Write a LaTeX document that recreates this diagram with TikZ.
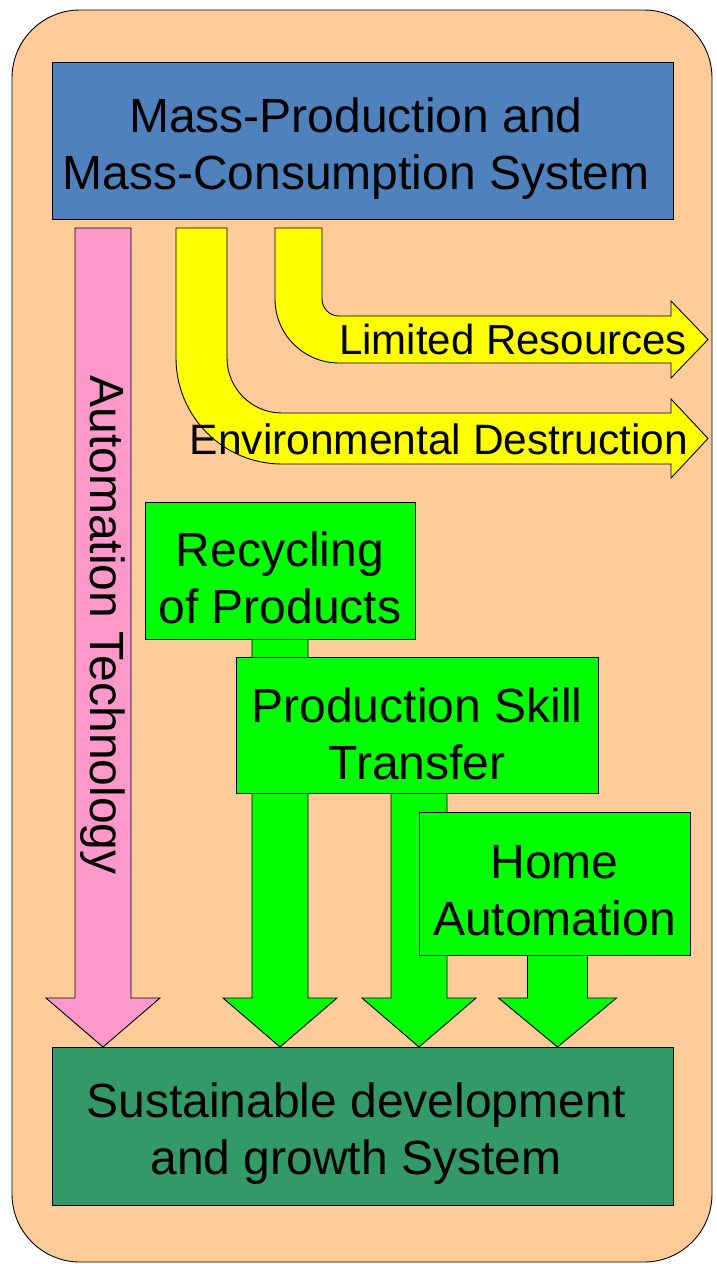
\documentclass[tikz,border=0pt]{standalone}
\usepackage{fontspec}
\setmainfont{Liberation Sans}
\usepackage{xcolor}
\definecolor{peach}{HTML}{FFCC99}
\definecolor{massblue}{HTML}{4F81BD}
\definecolor{autopink}{HTML}{FF99CC}
\definecolor{leafgreen}{HTML}{00FF00}
\definecolor{seagreen}{HTML}{339966}
\definecolor{warnyellow}{HTML}{FFFF00}

\begin{document}
\begin{tikzpicture}[x=1pt, y=1pt, line width=0.9pt,
  box/.style={draw, rectangle, inner sep=0pt},
  greenbox/.style={box, fill=leafgreen},
  boxtext/.style={align=center, inner sep=0pt, font=\fontsize{48}{57}\selectfont},
  bigarrow/.style={draw, line join=miter}]
  \useasboundingbox (0,0) rectangle (717,-1264);

  % Background panel
  \filldraw[fill=peach, rounded corners=68pt] (12,-10) rectangle (712,-1262);

  % Top and bottom systems
  \node[box, fill=massblue, minimum width=621pt, minimum height=157pt] (mass) at (362.5,-141) {};
  \node[boxtext] (massText) at ([xshift=-6.5pt, yshift=-7.5pt]mass.center) {Mass-Production and\\Mass-Consumption System};
  \node[box, fill=seagreen, minimum width=621pt, minimum height=158pt] (goal) at (362.5,-1126) {};
  \node[boxtext] (goalText) at ([xshift=-6.5pt, yshift=-7.5pt]goal.center) {Sustainable development\\and growth System};

  % Arrow sizes
  \def\shaft{28}
  \def\head{57}
  \def\basey{-998}
  \def\tipy{-1047}

  % Automation arrow
  \filldraw[bigarrow, fill=autopink] (103-\shaft,-228) -- (103-\shaft,\basey)
    -- (103-\head,\basey) -- (103,\tipy) -- (103+\head,\basey)
    -- (103+\shaft,\basey) -- (103+\shaft,-228) -- cycle;
  \node[rotate=-90, font=\fontsize{48}{57}\selectfont] (auto)
    at (103,-625) {Automation Technology};

  % Limited resources arrow
  \filldraw[bigarrow, fill=warnyellow] (275,-228) -- (275,-299)
    arc[start angle=180, end angle=270, radius=64] -- (671,-363)
    -- (671,-378) -- (708,-339.5) -- (671,-301) -- (671,-316) -- (339,-316)
    arc[start angle=270, end angle=180, radius=17] -- (322,-228) -- cycle;
  \node[font=\fontsize{42}{50}\selectfont] (limit) at (513,-339) {Limited Resources};

  % Environmental destruction arrow
  \filldraw[bigarrow, fill=warnyellow] (176,-228) -- (176,-358)
    arc[start angle=180, end angle=270, radius=106] -- (671,-464)
    -- (671,-478) -- (708,-438.5) -- (671,-399) -- (671,-413) -- (282,-413)
    arc[start angle=270, end angle=180, radius=55] -- (227,-228) -- cycle;
  \node[font=\fontsize{42.5}{50}\selectfont] (envir) at (439,-439) {Environmental Destruction};

  % Recycling of products
  \filldraw[bigarrow, fill=leafgreen] (280-\shaft,-600) -- (280-\shaft,\basey)
    -- (280-\head,\basey) -- (280,\tipy) -- (280+\head,\basey)
    -- (280+\shaft,\basey) -- (280+\shaft,-600) -- cycle;
  \node[greenbox, minimum width=270pt, minimum height=137pt] (recycle) at (280,-570.5) {};
  \node[boxtext] (recycleText) at ([yshift=-7.5pt]recycle.center) {Recycling\\of Products};

  % Production skill transfer
  \filldraw[bigarrow, fill=leafgreen] (419-\shaft,-760) -- (419-\shaft,\basey)
    -- (419-\head,\basey) -- (419,\tipy) -- (419+\head,\basey)
    -- (419+\shaft,\basey) -- (419+\shaft,-760) -- cycle;
  \node[greenbox, minimum width=362pt, minimum height=136pt] (skill) at (417,-725) {};
  \node[boxtext] (skillText) at ([yshift=-8.5pt]skill.center) {Production Skill\\Transfer};

  % Home automation
  \filldraw[bigarrow, fill=leafgreen] (557.5-\shaft-2,-920) -- (557.5-\shaft-2,\basey)
    -- (557.5-\head-2,\basey) -- (557.5,\tipy) -- (557.5+\head+2,\basey)
    -- (557.5+\shaft+2,\basey) -- (557.5+\shaft+2,-920) -- cycle;
  \node[greenbox, minimum width=271pt, minimum height=143pt] (home) at (554.5,-883.5) {};
  \node[boxtext] (homeText) at ([yshift=-7pt]home.center) {Home\\Automation};
\end{tikzpicture}
\end{document}
